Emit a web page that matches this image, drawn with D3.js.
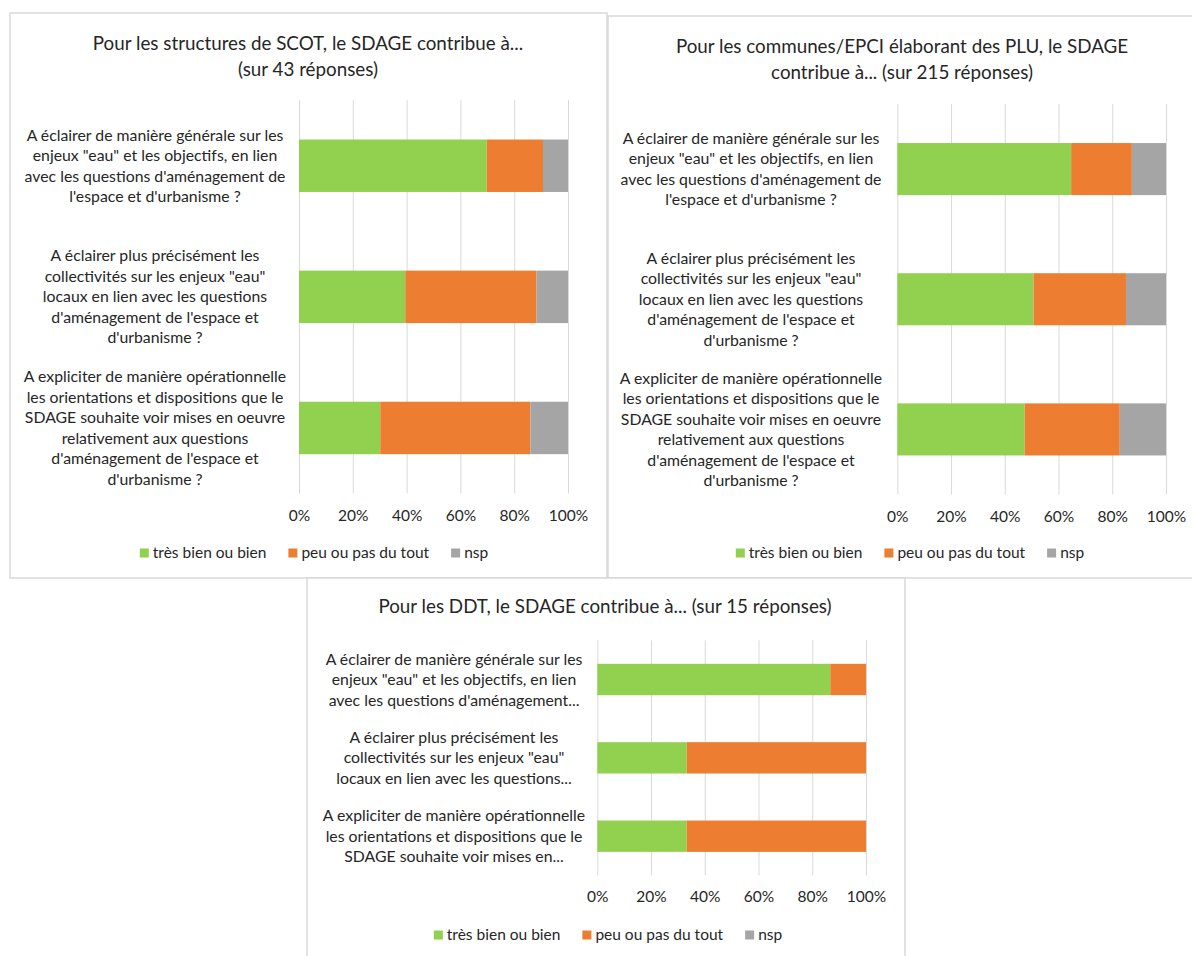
<!DOCTYPE html>
<html lang="fr">
<head>
<meta charset="utf-8">
<script src="https://cdn.jsdelivr.net/npm/d3@7"></script>
<style>
  html, body { margin: 0; padding: 0; background: #ffffff; }
  svg { display: block; }
  text { font-family: Lato, "Open Sans", "Liberation Sans", sans-serif; fill: #262626; }
</style>
</head>
<body>
<svg id="chart" width="1192" height="956"></svg>
<script>
// ---- Data ----------------------------------------------------------------
const seriesNames = ["très bien ou bien", "peu ou pas du tout", "nsp"];
const seriesColors = ["#92d050", "#ed7d31", "#a5a5a5"];

const questions = [
  "A éclairer de manière générale sur les enjeux \"eau\" et les objectifs, en lien avec les questions d'aménagement de l'espace et d'urbanisme ?",
  "A éclairer plus précisément les collectivités sur les enjeux \"eau\" locaux en lien avec les questions d'aménagement de l'espace et d'urbanisme ?",
  "A expliciter de manière opérationnelle les orientations et dispositions que le SDAGE souhaite voir mises en oeuvre relativement aux questions d'aménagement de l'espace et d'urbanisme ?"
];

// wrapped category labels (full and shortened versions)
const questionLinesFull = [
  ["A éclairer de manière générale sur les", "enjeux \"eau\" et les objectifs, en lien", "avec les questions d'aménagement de", "l'espace et d'urbanisme ?"],
  ["A éclairer plus précisément les", "collectivités sur les enjeux \"eau\"", "locaux en lien avec les questions", "d'aménagement de l'espace et", "d'urbanisme ?"],
  ["A expliciter de manière opérationnelle", "les orientations et dispositions que le", "SDAGE souhaite voir mises en oeuvre", "relativement aux questions", "d'aménagement de l'espace et", "d'urbanisme ?"]
];
const questionLinesShort = [
  ["A éclairer de manière générale sur les", "enjeux \"eau\" et les objectifs, en lien", "avec les questions d'aménagement..."],
  ["A éclairer plus précisément les", "collectivités sur les enjeux \"eau\"", "locaux en lien avec les questions..."],
  ["A expliciter de manière opérationnelle", "les orientations et dispositions que le", "SDAGE souhaite voir mises en..."]
];

// SCOT structures (43 responses), % of answers
const scotTresBien = [69.8, 39.5, 30.2];
const scotPeu      = [20.9, 48.8, 55.8];
const scotNsp      = [9.3, 11.7, 14.0];

// communes / EPCI drawing up PLU (215 responses)
const pluTresBien  = [64.7, 50.7, 47.4];
const pluPeu       = [22.6, 34.4, 35.4];
const pluNsp       = [12.7, 14.9, 17.2];

// DDT (15 responses)
const ddtTresBien  = [86.7, 33.3, 33.3];
const ddtPeu       = [13.3, 66.7, 66.7];
const ddtNsp       = [0, 0, 0];

const tickValues = [0, 20, 40, 60, 80, 100];

const titleScot = ["Pour les structures de SCOT, le SDAGE contribue à...", "(sur 43 réponses)"];
const titlePlu  = ["Pour les communes/EPCI élaborant des PLU, le SDAGE", "contribue à... (sur 215 réponses)"];
const titleDdt  = ["Pour les DDT, le SDAGE contribue à... (sur 15 réponses)"];

// ---- Layout --------------------------------------------------------------
const panels = [
  {
    frame: { x: 10, y: 13, w: 597, h: 565 },
    title: titleScot, titleX: 308, titleY: 43,
    lines: questionLinesFull, labelX: 155,
    values: [scotTresBien, scotPeu, scotNsp],
    plot: { x0: 299, x1: 568, y0: 100.2, y1: 493.5 },
    legendX: 314, legendY: 553
  },
  {
    frame: { x: 608, y: 16, w: 600, h: 562 },
    title: titlePlu, titleX: 902, titleY: 46,
    lines: questionLinesFull, labelX: 751,
    values: [pluTresBien, pluPeu, pluNsp],
    plot: { x0: 897.3, x1: 1166, y0: 104, y1: 494.5 },
    legendX: 910, legendY: 553
  },
  {
    frame: { x: 307, y: 578, w: 598, h: 400 },
    title: titleDdt, titleX: 605, titleY: 606,
    lines: questionLinesShort, labelX: 454,
    values: [ddtTresBien, ddtPeu, ddtNsp],
    plot: { x0: 597.3, x1: 866, y0: 640.3, y1: 875.4 },
    legendX: 608, legendY: 935
  }
];

const svg = d3.select("#chart");
svg.append("rect").attr("width", 1192).attr("height", 956).attr("fill", "#ffffff");

const labelSize = 15.8, tickSize = 15.5, titleSize = 18.8, lineStep = 20.5;

panels.forEach(p => {
  const g = svg.append("g");

  // chart frame
  g.append("rect")
    .attr("x", p.frame.x).attr("y", p.frame.y)
    .attr("width", p.frame.w).attr("height", p.frame.h)
    .attr("fill", "#ffffff").attr("stroke", "#d9d9d9").attr("stroke-width", 1.5);

  // title
  const t = g.append("text")
    .attr("text-anchor", "middle")
    .style("font-size", titleSize + "px");
  p.title.forEach((line, i) => {
    t.append("tspan").attr("x", p.titleX).attr("y", p.titleY + i * 26).attr("dy", "0.35em").text(line);
  });

  // table built from the series arrays
  const rows = questions.map((q, i) => {
    const r = { question: q };
    seriesNames.forEach((s, k) => { r[s] = p.values[k][i]; });
    return r;
  });

  const x = d3.scaleLinear().domain([0, 100]).range([p.plot.x0, p.plot.x1]);
  const y = d3.scaleBand().domain(questions)
    .range([p.plot.y0, p.plot.y1])
    .paddingInner(0.6).paddingOuter(0.3);

  // vertical gridlines + percentage ticks
  const axis = d3.axisBottom(x)
    .tickValues(tickValues)
    .tickFormat(d => d + "%")
    .tickSize(-(p.plot.y1 - p.plot.y0))
    .tickPadding(16);
  const ax = g.append("g")
    .attr("transform", `translate(0,${p.plot.y1})`)
    .call(axis);
  ax.select(".domain").remove();
  ax.selectAll(".tick line").attr("stroke", "#d9d9d9").attr("stroke-width", 1);
  ax.selectAll(".tick text")
    .attr("fill", "#262626")
    .style("font-size", tickSize + "px")
    .style("font-family", "Lato, 'Open Sans', sans-serif");

  // stacked bars
  const stack = d3.stack().keys(seriesNames)(rows);
  g.append("g").selectAll("g")
    .data(stack).join("g")
    .attr("fill", (d, k) => seriesColors[k])
    .selectAll("rect")
    .data(d => d).join("rect")
    .attr("x", d => x(d[0]))
    .attr("width", d => Math.max(0, x(d[1]) - x(d[0])))
    .attr("y", d => y(d.data.question))
    .attr("height", y.bandwidth());

  // category labels
  questions.forEach((q, i) => {
    const lines = p.lines[i];
    const cy = y(q) + y.bandwidth() / 2;
    const startY = cy - (lines.length - 1) * lineStep / 2;
    const txt = g.append("text")
      .attr("text-anchor", "middle")
      .style("font-size", labelSize + "px");
    lines.forEach((line, j) => {
      txt.append("tspan").attr("x", p.labelX).attr("y", startY + j * lineStep).attr("dy", "0.35em").text(line);
    });
  });

  // legend, centred under the plot
  const lg = g.append("g");
  const items = lg.selectAll("g").data(seriesNames).join("g");
  items.append("rect")
    .attr("width", 9).attr("height", 9)
    .attr("y", -4.5)
    .attr("fill", (d, k) => seriesColors[k]);
  items.append("text")
    .attr("x", 13).attr("dy", "0.35em")
    .style("font-size", tickSize + "px")
    .text(d => d);
  let cursor = 0;
  items.each(function () {
    const w = 13 + this.querySelector("text").getComputedTextLength();
    d3.select(this).attr("transform", `translate(${cursor},0)`);
    cursor += w + 22;
  });
  const total = cursor - 22;
  lg.attr("transform", `translate(${p.legendX - total / 2},${p.legendY})`);
});
</script>
</body>
</html>
